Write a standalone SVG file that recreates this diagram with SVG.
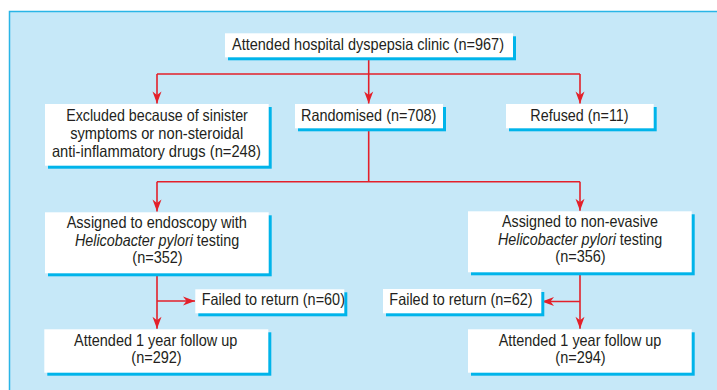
<svg xmlns="http://www.w3.org/2000/svg" width="717" height="390" viewBox="0 0 717 390">
<defs>
<marker id="arr" markerUnits="userSpaceOnUse" markerWidth="14" markerHeight="12" viewBox="-13 -6 14 12" refX="0" refY="0" orient="auto">
<path d="M0,0 L-12,-4.5 L-8.5,0 L-12,4.5 Z" fill="#e3202a"/>
</marker>
</defs>
<style>
.box{fill:#ffffff}
.sh{fill:#00b4ea}
.t{font-family:"Liberation Sans",Arial,sans-serif;font-size:16.5px;fill:#231f20;text-anchor:middle}
.i{font-style:italic}
.c{stroke:#e3202a;stroke-width:1.6;fill:none}
.a{marker-end:url(#arr)}
</style>
<rect x="9.5" y="11.5" width="720" height="390" fill="#c6e8f8" stroke="#2ab5e6" stroke-width="1.5"/>
<g id="connectors">
<path class="c" d="M157,74 H580"/>
<path class="c a" d="M368.7,57 V103.5"/>
<path class="c a" d="M157,74 V103.5"/>
<path class="c a" d="M580,74 V103.5"/>
<path class="c" d="M368.7,128 V181.7 M157,181.7 H580"/>
<path class="c a" d="M157,181.7 V211.5"/>
<path class="c a" d="M580,181.7 V210.8"/>
<path class="c a" d="M157,273 V328.8"/>
<path class="c a" d="M157,301 H195"/>
<path class="c a" d="M580,272 V328.8"/>
<path class="c a" d="M580,301.5 H542"/>
</g>
<g id="n-attended">
<rect class="sh" x="228" y="36.3" width="288" height="24"/>
<rect class="box" x="225" y="33.3" width="288" height="24"/>
<text class="t" x="368" y="50" textLength="272" lengthAdjust="spacingAndGlyphs">Attended hospital dyspepsia clinic (n=967)</text>
</g>
<g id="n-excluded">
<rect class="sh" x="48" y="107" width="223.7" height="61.7"/>
<rect class="box" x="45" y="104" width="223.7" height="61.7"/>
<text class="t" x="157" y="120.7" textLength="181.7" lengthAdjust="spacingAndGlyphs">Excluded because of sinister</text>
<text class="t" x="156.7" y="138.7" textLength="173" lengthAdjust="spacingAndGlyphs">symptoms or non-steroidal</text>
<text class="t" x="156.4" y="156.7" textLength="209" lengthAdjust="spacingAndGlyphs">anti-inflammatory drugs (n=248)</text>
</g>
<g id="n-randomised">
<rect class="sh" x="298" y="107" width="148" height="24.3"/>
<rect class="box" x="295" y="104" width="148" height="24.3"/>
<text class="t" x="368.7" y="120.7" textLength="135.3" lengthAdjust="spacingAndGlyphs">Randomised (n=708)</text>
</g>
<g id="n-refused">
<rect class="sh" x="509" y="107" width="147.7" height="24.3"/>
<rect class="box" x="506" y="104" width="147.7" height="24.3"/>
<text class="t" x="579.5" y="120.7" textLength="98.3" lengthAdjust="spacingAndGlyphs">Refused (n=11)</text>
</g>
<g id="n-endoscopy">
<rect class="sh" x="48" y="215.3" width="223.7" height="61"/>
<rect class="box" x="45" y="212.3" width="223.7" height="61"/>
<text class="t" x="156.8" y="228.3" textLength="180.3" lengthAdjust="spacingAndGlyphs">Assigned to endoscopy with</text>
<text class="t" transform="translate(157,246) scale(0.87,1)" x="0" y="0"><tspan class="i">Helicobacter pylori</tspan> testing</text>
<text class="t" x="157.5" y="263.3" textLength="50.4" lengthAdjust="spacingAndGlyphs">(n=352)</text>
</g>
<g id="n-noninvasive">
<rect class="sh" x="471" y="214.3" width="223.7" height="61"/>
<rect class="box" x="468" y="211.3" width="223.7" height="61"/>
<text class="t" x="580" y="227.3" textLength="156" lengthAdjust="spacingAndGlyphs">Assigned to non-evasive</text>
<text class="t" transform="translate(580,245) scale(0.87,1)" x="0" y="0"><tspan class="i">Helicobacter pylori</tspan> testing</text>
<text class="t" x="580.5" y="262.3" textLength="50.4" lengthAdjust="spacingAndGlyphs">(n=356)</text>
</g>
<g id="n-failed60">
<rect class="sh" x="198.3" y="292.3" width="149" height="24"/>
<rect class="box" x="195.3" y="289.3" width="149" height="24"/>
<text class="t" x="273.3" y="305" textLength="143.3" lengthAdjust="spacingAndGlyphs">Failed to return (n=60)</text>
</g>
<g id="n-failed62">
<rect class="sh" x="386" y="292" width="158.3" height="24.3"/>
<rect class="box" x="383" y="289" width="158.3" height="24.3"/>
<text class="t" x="461" y="305" textLength="143.3" lengthAdjust="spacingAndGlyphs">Failed to return (n=62)</text>
</g>
<g id="n-followup292">
<rect class="sh" x="47.3" y="332.3" width="224" height="43.4"/>
<rect class="box" x="44.3" y="329.3" width="224" height="43.4"/>
<text class="t" x="155.7" y="346" textLength="163.3" lengthAdjust="spacingAndGlyphs">Attended 1 year follow up</text>
<text class="t" x="156.5" y="363.3" textLength="50.4" lengthAdjust="spacingAndGlyphs">(n=292)</text>
</g>
<g id="n-followup294">
<rect class="sh" x="471" y="332.3" width="223.7" height="43.4"/>
<rect class="box" x="468" y="329.3" width="223.7" height="43.4"/>
<text class="t" x="580" y="346" textLength="162.7" lengthAdjust="spacingAndGlyphs">Attended 1 year follow up</text>
<text class="t" x="580.5" y="363.3" textLength="50.4" lengthAdjust="spacingAndGlyphs">(n=294)</text>
</g>
</svg>
